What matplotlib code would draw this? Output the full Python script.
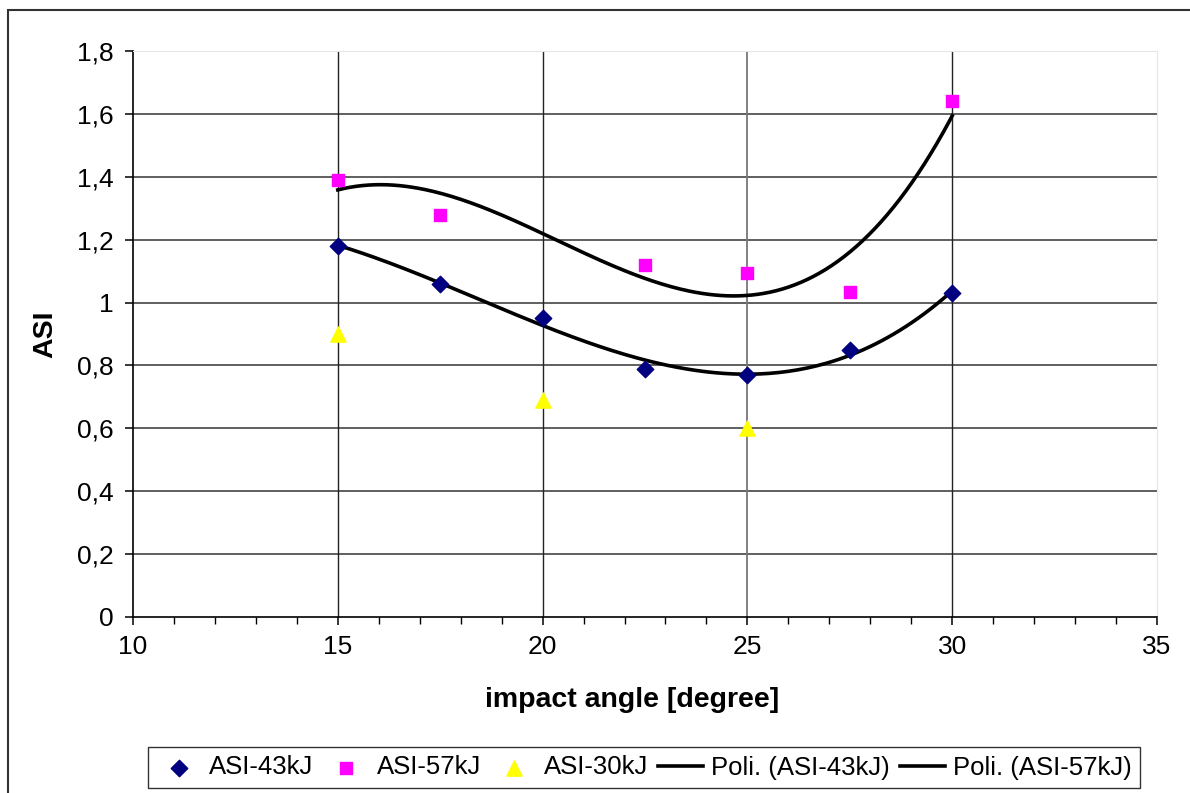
import matplotlib
matplotlib.use("Agg")
import matplotlib.pyplot as plt
import numpy as np
from matplotlib.patches import Rectangle
from matplotlib.ticker import FuncFormatter, MultipleLocator

plt.rcParams['font.family'] = ['Liberation Sans', 'DejaVu Sans']

# data
angle_43 = [15, 17.5, 20, 22.5, 25, 27.5, 30]
asi_43 = [1.18, 1.06, 0.95, 0.79, 0.77, 0.85, 1.03]
angle_57 = [15, 17.5, 22.5, 25, 27.5, 30]
asi_57 = [1.39, 1.28, 1.12, 1.095, 1.035, 1.64]
angle_30 = [15, 20, 25]
asi_30 = [0.90, 0.69, 0.60]

W, H = 1190, 793
fig = plt.figure(figsize=(W / 100, H / 100), dpi=100)
ax = fig.add_axes([133 / W, 1 - 617 / H, (1157 - 133) / W, (617 - 51) / H])

# outer chart frame (runs off the right/bottom edge like the screenshot)
fig.patches.append(Rectangle((8 / W, -0.05), 1.2, 1 - 10 / H + 0.05,
                             transform=fig.transFigure, fill=False,
                             edgecolor='#333333', lw=1.5))

ax.set_xlim(10, 35)
ax.set_ylim(0, 1.8)
ax.xaxis.set_major_locator(MultipleLocator(5))
ax.xaxis.set_minor_locator(MultipleLocator(1))
ax.yaxis.set_major_locator(MultipleLocator(0.2))

comma = FuncFormatter(lambda v, p: ('%g' % round(v, 2)).replace('.', ','))
ax.yaxis.set_major_formatter(comma)

for y in np.arange(0.2, 1.7, 0.2):
    ax.axhline(y, color='#444444', lw=1.2, zorder=1)
for x in [15, 20, 30]:
    ax.axvline(x, color='#222222', lw=1.0, zorder=1)
ax.axvline(25, color='#777777', lw=1.3, zorder=1)

for s in ['top', 'right']:
    ax.spines[s].set_color('#e6e6e6')
for s in ['left', 'bottom']:
    ax.spines[s].set_color('black')
    ax.spines[s].set_linewidth(1.2)

ax.tick_params(axis='both', which='major', direction='out', length=6, width=1.1,
               labelsize=19)
ax.tick_params(axis='y', which='major', pad=8)
ax.tick_params(axis='x', which='major', pad=7)
ax.tick_params(axis='x', which='minor', direction='out', length=5, width=1.0)

ax.scatter(angle_43, asi_43, marker='D', s=70, color='#000080', zorder=4, label='ASI-43kJ')
ax.scatter(angle_57, asi_57, marker='s', s=85, color='#FF00FF', zorder=4, label='ASI-57kJ')
ax.scatter(angle_30, asi_30, marker='^', s=120, color='#FFFF00', zorder=4, label='ASI-30kJ')

# polynomial trend lines (3rd order, as Excel "Poli.")
xx = np.linspace(15, 30, 200)
p43 = np.polyfit(angle_43, asi_43, 3)
p57 = np.polyfit(angle_57, asi_57, 3)
ax.plot(xx, np.polyval(p43, xx), color='black', lw=2.6, zorder=3, label='Poli. (ASI-43kJ)')
ax.plot(xx, np.polyval(p57, xx), color='black', lw=2.6, zorder=3, label='Poli. (ASI-57kJ)')

ax.set_xlabel('impact angle [degree]', fontsize=20.5, fontweight='bold')
ax.set_ylabel('ASI', fontsize=20.5, fontweight='bold')
ax.xaxis.set_label_coords((632 - 133) / (1157 - 133), -(700 - 617) / (617 - 51))
ax.yaxis.set_label_coords(-(133 - 45) / (1157 - 133), 0.5)
ax.xaxis.label.set_va('center')
ax.yaxis.label.set_va('center')

leg = fig.legend(loc='center', bbox_to_anchor=(644 / W, 1 - 767.5 / H), ncol=5,
                 fontsize=18.5, frameon=True, fancybox=False, handlelength=1.75,
                 handletextpad=0.3, columnspacing=0.4, borderpad=0.35,
                 borderaxespad=0)
leg.get_frame().set_edgecolor('black')
leg.get_frame().set_linewidth(1.0)

fig.savefig('out.png', dpi=100, facecolor='white')
